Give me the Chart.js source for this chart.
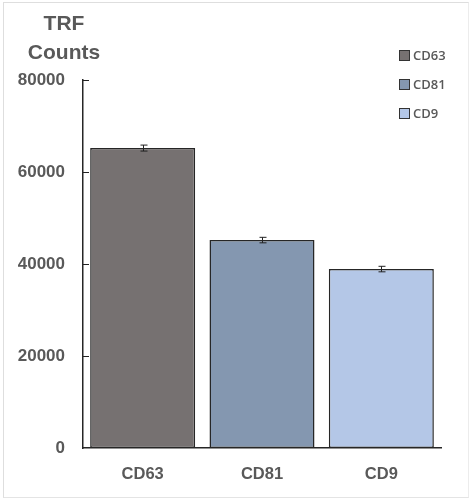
<!DOCTYPE html>
<html>
<head>
<meta charset="utf-8">
<script src="https://cdn.jsdelivr.net/npm/chart.js@4/dist/chart.umd.min.js"></script>
<style>
    body { margin: 0; background: #fff; }
    .frame {
        position: absolute; left: 3px; top: 2px; width: 464px; height: 494px;
        border: 1px solid #dedede; border-right-color: #ececec; border-bottom-color: #e4e4e4;
    }
    .wrap { position: absolute; left: 0; top: 0; width: 471px; height: 503px; }
    .yTitle {
        position: absolute; left: 14px; top: 8px; width: 100px; text-align: center;
        font: bold 21px "Liberation Sans", Arial, sans-serif; color: #595959; line-height: 29px;
    }
    .legend { position: absolute; left: 399px; top: 46px; font: 600 13px "Open Sans", sans-serif; color: #595959; }
    .legend div { height: 29px; display: flex; align-items: flex-start; }
    .legend span.box { display: inline-block; width: 9px; height: 9px; margin: 4px 3px 0 0; border: 1px solid #333; }
</style>
</head>
<body>
<div class="frame"></div>
<div class="wrap"><canvas id="grafico" width="471" height="503"></canvas></div>
<div class="yTitle">TRF<br>Counts</div>
<div class="legend" id="legenda"></div>
<script>
const categorias = ['CD63', 'CD81', 'CD9'];
const valores = [65200, 45200, 38900];
const erros = [650, 600, 600];
const cores = ['#767171', '#8497b0', '#b4c7e7'];
const ticksY = [0, 20000, 40000, 60000, 80000];

const legenda = document.getElementById('legenda');
categorias.forEach((cat, i) => {
    const linha = document.createElement('div');
    const caixa = document.createElement('span');
    caixa.className = 'box';
    caixa.style.background = cores[i];
    linha.appendChild(caixa);
    linha.appendChild(document.createTextNode(cat));
    legenda.appendChild(linha);
});

// barras de erro + ticks para dentro do eixo
const extras = {
    id: 'extras',
    afterDatasetsDraw(chart) {
        const ctx = chart.ctx;
        const y = chart.scales.y;
        const meta = chart.getDatasetMeta(0);
        ctx.save();
        ctx.strokeStyle = '#222';
        ctx.lineWidth = 1;
        meta.data.forEach((bar, i) => {
            const x = Math.round(bar.x) + 0.5;
            const yTop = y.getPixelForValue(valores[i] + erros[i]);
            const yBot = y.getPixelForValue(valores[i] - erros[i]);
            ctx.beginPath();
            ctx.moveTo(x, yTop); ctx.lineTo(x, yBot);
            ctx.moveTo(x - 3, yTop); ctx.lineTo(x + 4, yTop);
            ctx.moveTo(x - 3, yBot); ctx.lineTo(x + 4, yBot);
            ctx.stroke();
        });
        ticksY.forEach(v => {
            if (v === 0) return;
            const py = Math.round(y.getPixelForValue(v)) + 0.5;
            ctx.beginPath();
            ctx.moveTo(chart.chartArea.left, py);
            ctx.lineTo(chart.chartArea.left + 6, py);
            ctx.stroke();
        });
        ctx.restore();
    }
};

new Chart(document.getElementById('grafico'), {
    type: 'bar',
    data: {
        labels: categorias,
        datasets: [{
            data: valores,
            backgroundColor: cores,
            borderColor: '#262626',
            borderWidth: 1.5,
            borderSkipped: false,
            barPercentage: 0.88,
            categoryPercentage: 1
        }]
    },
    options: {
        responsive: false,
        animation: false,
        layout: { padding: { left: 10, right: 30, top: 80, bottom: 0 } },
        plugins: { legend: { display: false }, tooltip: { enabled: false } },
        scales: {
            x: {
                grid: { display: false, drawTicks: false },
                border: { color: '#262626', width: 1.5 },
                ticks: { padding: 17, color: '#595959', font: { family: 'Liberation Sans', size: 16.5, weight: 'bold' } },
                afterFit(scale) { scale.height = 55; }
            },
            y: {
                min: 0, max: 80000,
                afterBuildTicks(scale) { scale.ticks = ticksY.map(v => ({ value: v })); },
                grid: { display: false, drawTicks: false },
                border: { color: '#262626', width: 1.5 },
                ticks: {
                    padding: 18, color: '#595959',
                    font: { family: 'Liberation Sans', size: 17, weight: 'bold' },
                    callback: v => String(v)
                },
                afterFit(scale) { scale.width = 73; }
            }
        }
    },
    plugins: [extras]
});
</script>
</body>
</html>
